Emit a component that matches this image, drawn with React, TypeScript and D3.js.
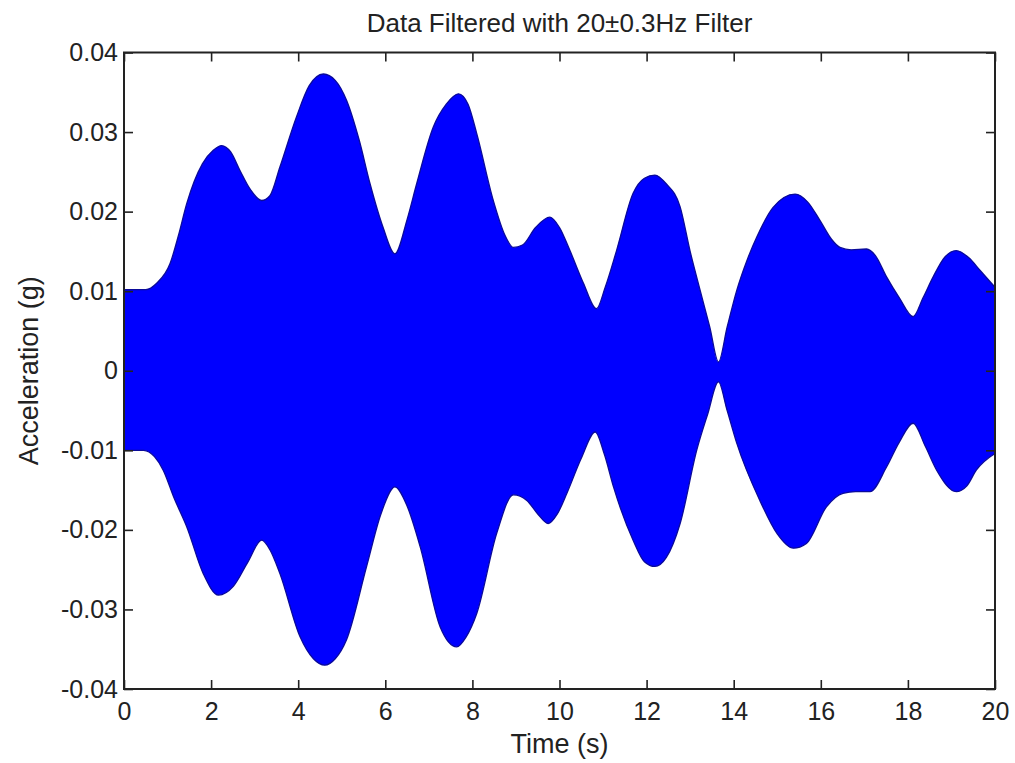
import React, { useEffect, useRef } from "react";
import * as d3 from "d3";

const TITLE = "Data Filtered with 20±0.3Hz Filter";
const X_LABEL = "Time (s)";
const Y_LABEL = "Acceleration (g)";
const X_TICKS = [0, 2, 4, 6, 8, 10, 12, 14, 16, 18, 20];
const Y_TICKS = [-0.04, -0.03, -0.02, -0.01, 0, 0.01, 0.02, 0.03, 0.04];
const Y_TICK_LABELS = ["-0.04", "-0.03", "-0.02", "-0.01", "0", "0.01", "0.02", "0.03", "0.04"];

// upper envelope of the filtered signal
const UPPER_T = [0, 0.5, 0.75, 1.06, 1.25, 1.44, 1.8, 2.05, 2.24, 2.45, 2.66, 2.9, 3.16, 3.35, 3.58, 3.96, 4.25, 4.58, 4.85, 5.11, 5.4, 5.65, 5.95, 6.22, 6.5, 6.72, 7.1, 7.4, 7.68, 7.9, 8.1, 8.48, 8.75, 8.94, 9.15, 9.45, 9.78, 10.0, 10.24, 10.55, 10.85, 11.05, 11.31, 11.69, 11.95, 12.19, 12.45, 12.77, 13.0, 13.23, 13.45, 13.65, 13.85, 14.07, 14.3, 14.53, 14.9, 15.41, 15.7, 15.98, 16.25, 16.44, 16.7, 17.05, 17.25, 17.51, 17.8, 18.12, 18.35, 18.58, 18.85, 19.11, 19.4, 19.66, 20];
const UPPER_V = [0.0102, 0.0102, 0.011, 0.0135, 0.017, 0.021, 0.026, 0.0277, 0.0283, 0.0275, 0.0252, 0.0228, 0.0214, 0.022, 0.0256, 0.0319, 0.0358, 0.0373, 0.0365, 0.034, 0.029, 0.0235, 0.018, 0.0147, 0.019, 0.0235, 0.0306, 0.0335, 0.0348, 0.0335, 0.0298, 0.0214, 0.017, 0.0155, 0.0158, 0.018, 0.0193, 0.018, 0.0151, 0.011, 0.0078, 0.0105, 0.0151, 0.0223, 0.0242, 0.0246, 0.0235, 0.0206, 0.015, 0.0101, 0.0055, 0.0011, 0.0055, 0.0101, 0.0138, 0.0168, 0.0205, 0.0222, 0.0212, 0.0189, 0.0165, 0.0155, 0.0152, 0.0153, 0.0145, 0.0118, 0.0092, 0.0068, 0.0092, 0.0118, 0.0143, 0.0151, 0.0142, 0.0126, 0.0105];

// lower envelope of the filtered signal
const LOWER_T = [0, 0.45, 0.7, 0.9, 1.15, 1.44, 1.82, 2.17, 2.51, 2.85, 3.16, 3.35, 3.58, 4.04, 4.35, 4.61, 4.85, 5.11, 5.57, 5.9, 6.22, 6.5, 6.8, 7.26, 7.64, 7.85, 8.1, 8.56, 8.94, 9.25, 9.5, 9.74, 9.95, 10.17, 10.5, 10.82, 11.03, 11.24, 11.69, 11.95, 12.19, 12.45, 12.77, 13.15, 13.4, 13.65, 13.85, 14.07, 14.6, 15.0, 15.37, 15.67, 16.13, 16.51, 16.8, 17.13, 17.51, 17.8, 18.12, 18.4, 18.66, 19.11, 19.35, 19.57, 20];
const LOWER_V = [-0.01, -0.01, -0.0108, -0.0125, -0.016, -0.0196, -0.0255, -0.0282, -0.0271, -0.024, -0.0213, -0.0225, -0.0255, -0.0334, -0.0362, -0.037, -0.0362, -0.0338, -0.0246, -0.018, -0.0146, -0.017, -0.0221, -0.0322, -0.0347, -0.0335, -0.0305, -0.0204, -0.0156, -0.0163, -0.018, -0.0192, -0.018, -0.0154, -0.011, -0.0077, -0.0105, -0.0146, -0.0213, -0.024, -0.0246, -0.0235, -0.0192, -0.01, -0.0055, -0.0014, -0.005, -0.0091, -0.0163, -0.0205, -0.0223, -0.0217, -0.0171, -0.0154, -0.0152, -0.0152, -0.0121, -0.009, -0.0066, -0.0095, -0.0125, -0.0152, -0.0145, -0.0125, -0.0104];

const W = 1015;
const H = 763;
const LEFT = 124;
const RIGHT = 995;
const TOP = 52.5;
const BOTTOM = 689;
const FONT = "'Liberation Sans', Arial, Helvetica, sans-serif";
const TEXT_COLOR = "#222";

export default function App() {
  const ref = useRef<SVGSVGElement | null>(null);

  useEffect(() => {
    const svg = d3.select(ref.current);
    svg.selectAll("*").remove();

    const x = d3.scaleLinear().domain([0, 20]).range([LEFT, RIGHT]);
    const y = d3.scaleLinear().domain([-0.04, 0.04]).range([BOTTOM, TOP]);

    svg.append("rect").attr("x", 0).attr("y", 0).attr("width", W).attr("height", H).attr("fill", "#fff");

    const upper = UPPER_T.map((t, i) => [t, UPPER_V[i]] as [number, number]);
    const lower = LOWER_T.map((t, i) => [t, LOWER_V[i]] as [number, number]);

    const curve = d3.curveMonotoneX;
    const upperArea = d3
      .area<[number, number]>()
      .x((d) => x(d[0]))
      .y0(y(-0.0003))
      .y1((d) => y(d[1]))
      .curve(curve);
    const lowerArea = d3
      .area<[number, number]>()
      .x((d) => x(d[0]))
      .y0(y(0.0003))
      .y1((d) => y(d[1]))
      .curve(curve);
    const edge = d3
      .line<[number, number]>()
      .x((d) => x(d[0]))
      .y((d) => y(d[1]))
      .curve(curve);

    const plot = svg.append("g");
    plot.append("path").attr("d", upperArea(upper)!).attr("fill", "#0000ff");
    plot.append("path").attr("d", lowerArea(lower)!).attr("fill", "#0000ff");
    plot.append("path").attr("d", edge(upper)!).attr("fill", "none").attr("stroke", "#0a0a9a").attr("stroke-width", 1.3);
    plot.append("path").attr("d", edge(lower)!).attr("fill", "none").attr("stroke", "#0a0a9a").attr("stroke-width", 1.3);

    const styleAxis = (g: d3.Selection<SVGGElement, unknown, null, undefined>) => {
      g.select(".domain").remove();
      g.selectAll(".tick line").attr("stroke", TEXT_COLOR).attr("stroke-width", 1.6);
      g.selectAll(".tick text").attr("fill", TEXT_COLOR).style("font-family", FONT).style("font-size", "25px");
    };

    const bottom = svg
      .append("g")
      .attr("transform", `translate(0,${BOTTOM})`)
      .call(d3.axisBottom(x).tickValues(X_TICKS).tickSizeInner(-9).tickSizeOuter(0).tickPadding(13).tickFormat((d) => String(d)));
    styleAxis(bottom);

    const top = svg
      .append("g")
      .attr("transform", `translate(0,${TOP})`)
      .call(d3.axisTop(x).tickValues(X_TICKS).tickSizeInner(-9).tickSizeOuter(0).tickFormat(() => ""));
    styleAxis(top);

    const left = svg
      .append("g")
      .attr("transform", `translate(${LEFT},0)`)
      .call(
        d3
          .axisLeft(y)
          .tickValues(Y_TICKS)
          .tickSizeInner(-9)
          .tickSizeOuter(0)
          .tickPadding(6)
          .tickFormat((d, i) => Y_TICK_LABELS[i])
      );
    styleAxis(left);

    const right = svg
      .append("g")
      .attr("transform", `translate(${RIGHT},0)`)
      .call(d3.axisRight(y).tickValues(Y_TICKS).tickSizeInner(-9).tickSizeOuter(0).tickFormat(() => ""));
    styleAxis(right);

    svg
      .append("rect")
      .attr("x", LEFT)
      .attr("y", TOP)
      .attr("width", RIGHT - LEFT)
      .attr("height", BOTTOM - TOP)
      .attr("fill", "none")
      .attr("stroke", TEXT_COLOR)
      .attr("stroke-width", 2);

    svg
      .append("text")
      .attr("x", (LEFT + RIGHT) / 2)
      .attr("y", 32)
      .attr("text-anchor", "middle")
      .attr("fill", TEXT_COLOR)
      .style("font-family", FONT)
      .style("font-size", "26px")
      .text(TITLE);

    svg
      .append("text")
      .attr("x", (LEFT + RIGHT) / 2)
      .attr("y", 753)
      .attr("text-anchor", "middle")
      .attr("fill", TEXT_COLOR)
      .style("font-family", FONT)
      .style("font-size", "27px")
      .text(X_LABEL);

    svg
      .append("text")
      .attr("transform", `translate(38,${(TOP + BOTTOM) / 2}) rotate(-90)`)
      .attr("text-anchor", "middle")
      .attr("fill", TEXT_COLOR)
      .style("font-family", FONT)
      .style("font-size", "27px")
      .text(Y_LABEL);
  }, []);

  return (
    <svg
      ref={ref}
      width={W}
      height={H}
      style={{ position: "absolute", left: 0, top: 0, display: "block" }}
    />
  );
}
